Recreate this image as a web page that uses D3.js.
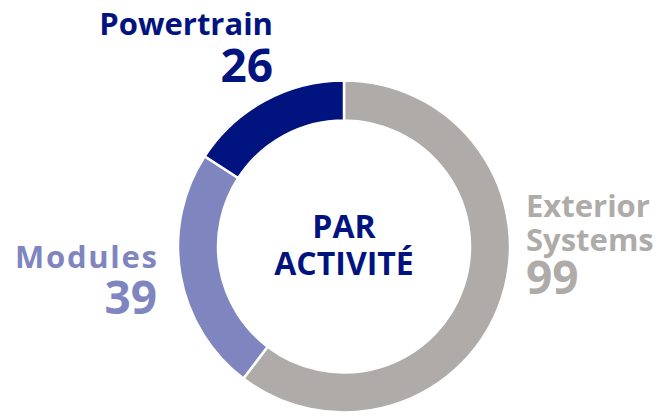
<!DOCTYPE html>
<html>
<head>
<meta charset="utf-8">
<script src="https://cdn.jsdelivr.net/npm/d3@7"></script>
<style>
  body { margin: 0; background: #fff; }
  text { font-family: "Century Gothic", "Open Sans", sans-serif; font-weight: 700; }
</style>
</head>
<body>
<div id="chart"></div>
<script>
let width = 664,
    height = 417;

// data
let segments = ["Exterior Systems", "Modules", "Powertrain"];
let values = [99, 39, 26];
let segColors = ["#aeaba9", "#7f86bf", "#00137f"];
let centerLabel = ["PAR", "ACTIVITÉ"];

let cx = 344, cy = 246.5,
    outerR = 166, innerR = 126;

let svg = d3.select("#chart")
    .append("svg")
    .attr("width", width)
    .attr("height", height);

let g = svg.append("g")
    .attr("transform", "translate(" + cx + "," + cy + ")");

let data = segments.map(function(s, i) {
    return {name: s, value: values[i], color: segColors[i]};
});

let pie = d3.pie()
    .sort(null)
    .value(function(d) { return d.value; });

let arc = d3.arc()
    .innerRadius(innerR)
    .outerRadius(outerR);

g.selectAll("path")
    .data(pie(data))
    .enter().append("path")
    .attr("d", arc)
    .attr("fill", function(d) { return d.data.color; })
    .attr("stroke", "#fff")
    .attr("stroke-width", 2.5);

// center label
g.append("text")
    .attr("text-anchor", "middle")
    .attr("y", -9)
    .attr("fill", segColors[2])
    .style("font-size", "32px")
    .text(centerLabel[0]);
g.append("text")
    .attr("text-anchor", "middle")
    .attr("y", 28)
    .attr("fill", segColors[2])
    .style("font-size", "32px")
    .text(centerLabel[1]);

// outside labels
let labels = svg.append("g");

// Powertrain
labels.append("text")
    .attr("x", 273).attr("y", 35)
    .attr("text-anchor", "end")
    .attr("fill", segColors[2])
    .style("font-size", "31px")
    .text(segments[2]);
labels.append("text")
    .attr("x", 273).attr("y", 82)
    .attr("text-anchor", "end")
    .attr("fill", segColors[2])
    .style("font-size", "46px")
    .text(values[2]);

// Modules (Century Gothic is wider, stretch a bit)
labels.append("text")
    .attr("x", 15).attr("y", 268)
    .attr("textLength", 142)
    .attr("lengthAdjust", "spacing")
    .attr("fill", segColors[1])
    .style("font-size", "31px")
    .text(segments[1]);
labels.append("text")
    .attr("x", 157).attr("y", 314)
    .attr("text-anchor", "end")
    .attr("fill", segColors[1])
    .style("font-size", "46px")
    .text(values[1]);

// Exterior Systems
let ext = segments[0].split(" ");
labels.append("text")
    .attr("x", 526).attr("y", 217)
    .attr("fill", segColors[0])
    .style("font-size", "31px")
    .text(ext[0]);
labels.append("text")
    .attr("x", 526).attr("y", 251)
    .attr("fill", segColors[0])
    .style("font-size", "31px")
    .text(ext[1]);
labels.append("text")
    .attr("x", 526).attr("y", 294)
    .attr("fill", segColors[0])
    .style("font-size", "46px")
    .text(values[0]);
</script>
</body>
</html>
